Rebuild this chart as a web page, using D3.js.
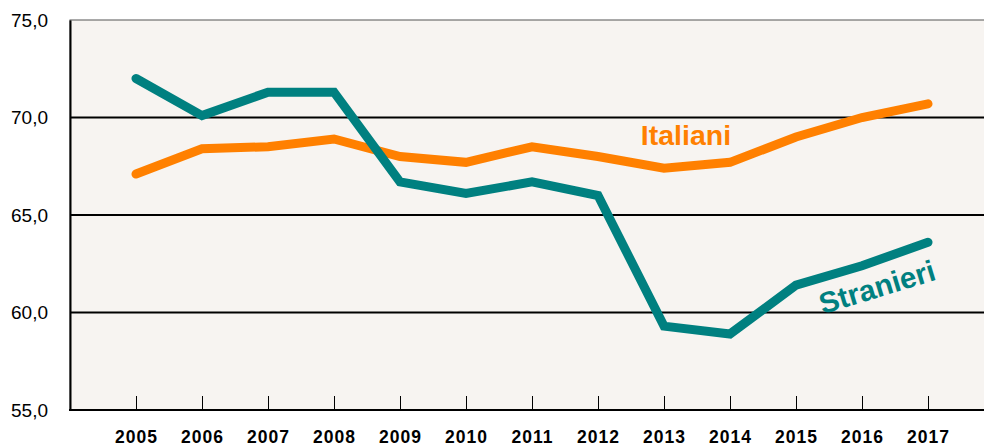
<!DOCTYPE html>
<html>
<head>
<meta charset="utf-8">
<script src="https://cdn.jsdelivr.net/npm/d3@7"></script>
<style>
  body { margin: 0; background: #fff; }
  svg { display: block; font-family: "Liberation Sans", Arial, sans-serif; }
</style>
</head>
<body>
<div id="chart"></div>
<script>
const years = [2005, 2006, 2007, 2008, 2009, 2010, 2011, 2012, 2013, 2014, 2015, 2016, 2017];
const italiani = [67.1, 68.4, 68.5, 68.9, 68.0, 67.7, 68.5, 68.0, 67.4, 67.7, 69.0, 70.0, 70.7];
const stranieri = [72.0, 70.1, 71.3, 71.3, 66.7, 66.1, 66.7, 66.0, 59.3, 58.9, 61.4, 62.4, 63.6];
const yTicks = [55, 60, 65, 70, 75];

const width = 984, height = 446;
const plot = { left: 70, top: 20, bottom: 410, right: 994 };

const svg = d3.select("#chart").append("svg")
  .attr("width", width).attr("height", height);

const x = d3.scaleLinear().domain([2004, 2018]).range([plot.left, plot.right]);
const y = d3.scaleLinear().domain([55, 75]).range([plot.bottom, plot.top]);

// plot background
svg.append("rect")
  .attr("x", plot.left).attr("y", plot.top)
  .attr("width", plot.right - plot.left).attr("height", plot.bottom - plot.top)
  .attr("fill", "#f7f4f1")
  .attr("stroke", "#555").attr("stroke-width", 1);

// gridlines
svg.append("g").selectAll("line")
  .data(yTicks.filter(d => d > 55 && d < 75))
  .join("line")
  .attr("x1", plot.left).attr("x2", plot.right)
  .attr("y1", d => y(d)).attr("y2", d => y(d))
  .attr("stroke", "#000").attr("stroke-width", 2);

// y axis
const yAxis = svg.append("g")
  .attr("transform", `translate(${plot.left},0)`)
  .call(d3.axisLeft(y).tickValues(yTicks).tickSize(0).tickPadding(22)
    .tickFormat(d => d3.format(".1f")(d).replace(".", ",")));
yAxis.select(".domain").attr("stroke", "#000").attr("stroke-width", 2);
yAxis.selectAll("text").attr("font-size", 19).attr("fill", "#000");

// x axis
const xAxis = svg.append("g")
  .attr("transform", `translate(0,${plot.bottom})`)
  .call(d3.axisTop(x).tickValues(years).tickSize(14).tickFormat(d3.format("d")));
xAxis.select(".domain").remove();
xAxis.selectAll("line").attr("stroke", "#000").attr("stroke-width", 1);
xAxis.selectAll("text")
  .attr("y", 33).attr("dy", 0)
  .attr("font-size", 17.5).attr("font-weight", "bold")
  .attr("letter-spacing", "1px").attr("fill", "#000");
svg.append("line")
  .attr("x1", plot.left - 1).attr("x2", plot.right)
  .attr("y1", plot.bottom).attr("y2", plot.bottom)
  .attr("stroke", "#000").attr("stroke-width", 2);

// lines
const line = d3.line().x((d, i) => x(years[i])).y(d => y(d));
const series = [
  { name: "Italiani", values: italiani, color: "#ff8000" },
  { name: "Stranieri", values: stranieri, color: "#008080" }
];
svg.append("g").selectAll("path")
  .data(series)
  .join("path")
  .attr("d", d => line(d.values))
  .attr("fill", "none")
  .attr("stroke", d => d.color)
  .attr("stroke-width", 9)
  .attr("stroke-linecap", "round")
  .attr("stroke-linejoin", "miter");

// labels
svg.append("text")
  .attr("x", 686).attr("y", 145)
  .attr("text-anchor", "middle")
  .attr("font-size", 28.5).attr("font-weight", "bold")
  .attr("fill", "#ff8000")
  .text("Italiani");

svg.append("text")
  .attr("transform", "translate(877,287) rotate(-17)")
  .attr("text-anchor", "middle").attr("dy", "0.35em")
  .attr("font-size", 29.5).attr("font-weight", "bold")
  .attr("fill", "#008080")
  .text("Stranieri");
</script>
</body>
</html>
